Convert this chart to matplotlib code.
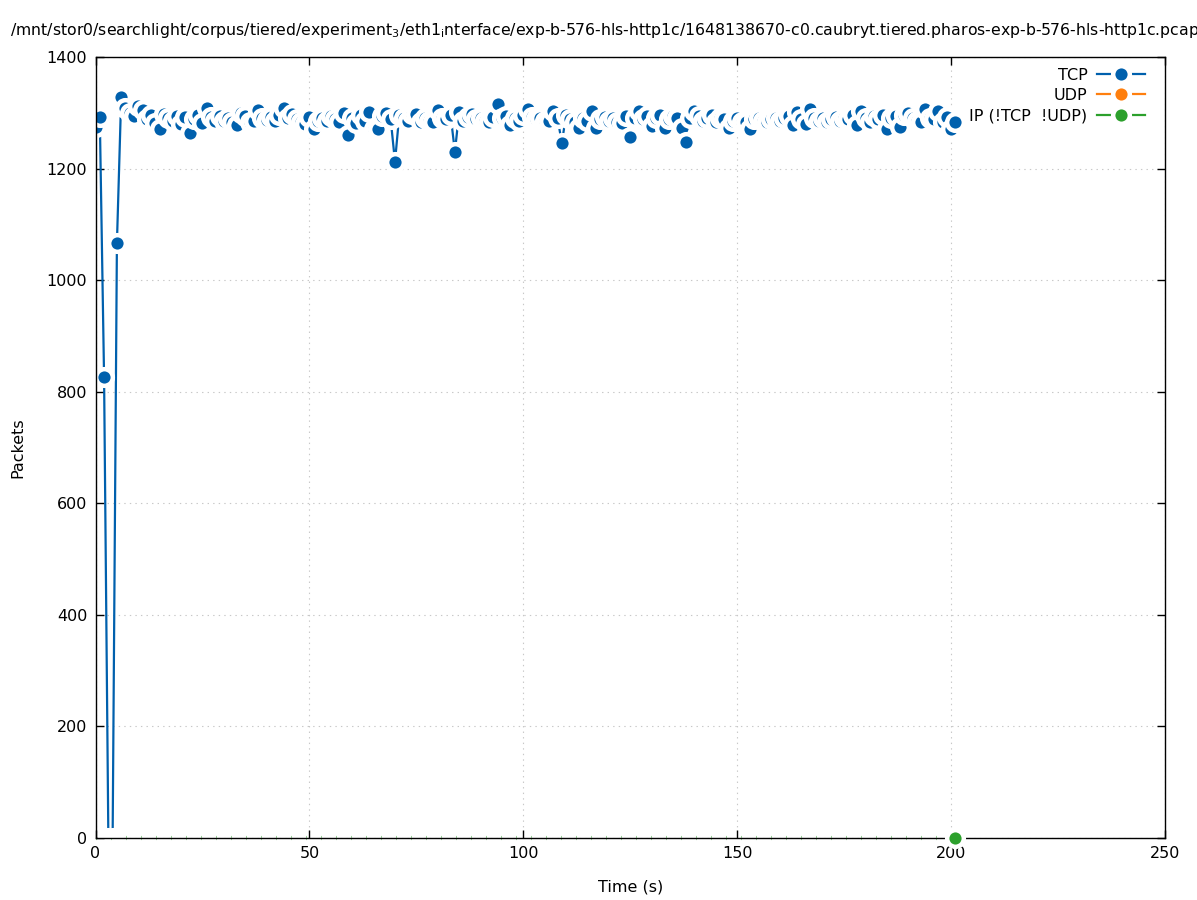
import numpy as np
import matplotlib
matplotlib.use("Agg")
import matplotlib.pyplot as plt
from matplotlib.lines import Line2D

plt.rcParams["font.family"] = ["DejaVu Sans"]
plt.rcParams["lines.scale_dashes"] = False

# TCP 每秒包数
tcp_time = np.arange(0, 202)
tcp_pkts = [
    1275, 1292, 826, 0, 0, 1066, 1328, 1308, 1300, 1294,
    1312, 1305, 1288, 1296, 1282, 1270, 1298, 1290, 1285, 1294,
    1280, 1292, 1264, 1288, 1296, 1282, 1308, 1292, 1285, 1295,
    1286, 1291, 1284, 1278, 1300, 1294, 1283, 1286, 1305, 1290,
    1287, 1293, 1285, 1296, 1308, 1290, 1298, 1288, 1283, 1280,
    1292, 1270, 1286, 1290, 1285, 1294, 1288, 1284, 1299, 1261,
    1290, 1282, 1296, 1286, 1301, 1270, 1270, 1294, 1300, 1288,
    1212, 1296, 1290, 1285, 1298, 1298, 1284, 1290, 1286, 1284,
    1305, 1290, 1288, 1296, 1230, 1301, 1286, 1292, 1298, 1288,
    1290, 1286, 1284, 1292, 1315, 1290, 1295, 1278, 1290, 1286,
    1296, 1306, 1292, 1288, 1290, 1285, 1286, 1303, 1290, 1246,
    1296, 1288, 1284, 1273, 1290, 1286, 1303, 1273, 1288, 1292,
    1286, 1290, 1284, 1282, 1294, 1257, 1290, 1303, 1288, 1294,
    1276, 1290, 1296, 1273, 1288, 1295, 1290, 1272, 1247, 1290,
    1303, 1294, 1286, 1290, 1296, 1284, 1290, 1288, 1272, 1286,
    1290, 1284, 1284, 1270, 1288, 1290, 1286, 1284, 1288, 1290,
    1286, 1290, 1295, 1278, 1301, 1288, 1280, 1306, 1290, 1286,
    1290, 1284, 1288, 1292, 1286, 1290, 1288, 1296, 1278, 1303,
    1290, 1284, 1294, 1288, 1296, 1270, 1290, 1294, 1274, 1296,
    1300, 1290, 1286, 1284, 1306, 1290, 1288, 1303, 1284, 1292,
    1270, 1283,
]
tcp_pkts = np.array(tcp_pkts)

# IP (!TCP !UDP) 只有零
ip_time = np.arange(0, 202)
ip_pkts = np.zeros(len(ip_time))

TITLE = ("/mnt/stor0/searchlight/corpus/tiered/experiment$_3$/eth1$_{\\mathrm{i}}$nterface/"
         "exp-b-576-hls-http1c/1648138670-c0.caubryt.tiered.pharos-exp-b-576-hls-http1c.pcap")

C_TCP = "#0060ad"
C_UDP = "#ff7f0e"
C_IP = "#2ca02c"

fig = plt.figure(figsize=(11.97, 9.0), dpi=100)
ax = fig.add_axes([0.0798, 0.0689, 0.9733 - 0.0798, 0.9367 - 0.0689])

ms, mew = 12.0, 3.2

# 线
ax.plot(tcp_time, tcp_pkts, color=C_TCP, lw=1.6, zorder=2)
# 零值点只留白色间隙
zero = tcp_pkts <= 0
ax.plot(tcp_time[zero], tcp_pkts[zero], "o", ms=ms, mfc="white", mec="white",
        mew=mew, zorder=3)
ax.plot(tcp_time[~zero], tcp_pkts[~zero], "o", ms=ms, mfc=C_TCP, mec="white",
        mew=mew, zorder=3)

# IP 线沿 x 轴 (虚线碎片)
ax.plot(ip_time, ip_pkts, color="#9ad39a", lw=3.0, dashes=(0.7, 10.1),
        clip_on=False, zorder=1)
ax.plot(ip_time[-1:], ip_pkts[-1:], "o", ms=ms, mfc=C_IP, mec="white", mew=mew,
        clip_on=False, zorder=5)

ax.set_xlim(0, 250)
ax.set_ylim(0, 1400)
ax.set_xticks(np.arange(0, 251, 50))
ax.set_yticks(np.arange(0, 1401, 200))
ax.tick_params(direction="in", length=6, width=1, top=True, right=True,
               labelsize=11.5, pad=6)
for s in ax.spines.values():
    s.set_linewidth(1.0)
    s.set_zorder(4)
ax.grid(True, color="#c8c8c8", linestyle=(0, (1, 3)), lw=0.8)
ax.set_axisbelow(True)

ax.set_xlabel("Time (s)", fontsize=11.5, labelpad=13)
ax.set_ylabel("Packets", fontsize=11.5, labelpad=15)

fig.text(10 / 1197, 1 - 30 / 900, TITLE, fontsize=11.3, ha="left", va="center")

handles = [
    Line2D([], [], color=C_TCP, lw=1.6, marker="o", ms=ms, mfc=C_TCP, mec="white", mew=mew),
    Line2D([], [], color=C_UDP, lw=1.6, marker="o", ms=ms, mfc=C_UDP, mec="white", mew=mew),
    Line2D([], [], color=C_IP, lw=1.6, marker="o", ms=ms, mfc=C_IP, mec="white", mew=mew),
]
leg = ax.legend(handles, ["TCP", "UDP", "IP (!TCP  !UDP)"], loc="upper right",
                bbox_to_anchor=(0.9813, 0.9860), frameon=False, markerfirst=False,
                fontsize=11.5, handlelength=3.0, handletextpad=0.6, labelspacing=0.32,
                borderaxespad=0.0, borderpad=0.0)
for t in leg.get_texts():
    t.set_ha("right")

fig.savefig("out.png", dpi=100)
